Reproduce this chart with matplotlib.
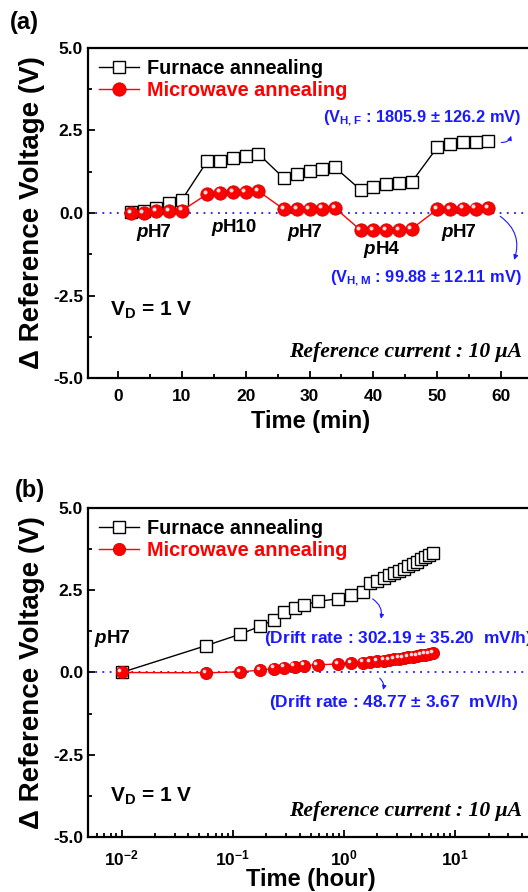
import matplotlib
matplotlib.use("Agg")
import matplotlib.pyplot as plt
from matplotlib.transforms import ScaledTranslation

plt.rcParams["font.family"] = ["Liberation Sans", "DejaVu Sans"]
plt.rcParams["font.weight"] = "bold"
plt.rcParams["axes.labelweight"] = "bold"
plt.rcParams["axes.unicode_minus"] = False
plt.rcParams["mathtext.fontset"] = "custom"
plt.rcParams["mathtext.rm"] = "Liberation Sans:bold"
plt.rcParams["mathtext.bf"] = "Liberation Sans:bold"
plt.rcParams["mathtext.default"] = "bf"

# (a) pH sequence 7 -> 10 -> 7 -> 4 -> 7, one point every 2 min
time_a = [2, 4, 6, 8, 10, 14, 16, 18, 20, 22, 26, 28, 30, 32, 34,
          38, 40, 42, 44, 46, 50, 52, 54, 56, 58]
furnace_a = [0.02, 0.07, 0.15, 0.29, 0.40, 1.58, 1.58, 1.68, 1.72, 1.79,
             1.05, 1.19, 1.28, 1.32, 1.38, 0.70, 0.79, 0.89, 0.92, 0.94,
             1.99, 2.09, 2.15, 2.15, 2.19]
microwave_a = [0.00, 0.00, 0.05, 0.05, 0.07, 0.58, 0.62, 0.64, 0.64, 0.66,
               0.11, 0.11, 0.11, 0.13, 0.15, -0.52, -0.51, -0.51, -0.51, -0.48,
               0.11, 0.11, 0.13, 0.13, 0.15]
ph_labels_a = [(4.7, -0.6, "7"), (16.4, -0.45, "10"), (28.3, -0.6, "7"),
               (40.3, -1.1, "4"), (52.5, -0.6, "7")]

# (b) drift at pH7 (hours)
time_b = [0.01, 0.058, 0.116, 0.177, 0.237, 0.29, 0.36, 0.44, 0.58, 0.88,
          1.16, 1.48, 1.73, 2.0, 2.3, 2.55, 2.83, 3.14, 3.44, 3.76,
          4.15, 4.52, 4.91, 5.34, 5.8, 6.3]
furnace_b = [0.00, 0.82, 1.16, 1.41, 1.61, 1.83, 1.97, 2.06, 2.16, 2.24,
             2.36, 2.44, 2.71, 2.79, 2.87, 2.95, 3.02, 3.09, 3.16, 3.23,
             3.30, 3.37, 3.44, 3.51, 3.58, 3.64]
microwave_b = [0.00, -0.01, 0.02, 0.07, 0.12, 0.15, 0.18, 0.21, 0.23, 0.26,
               0.29, 0.30, 0.32, 0.34, 0.36, 0.38, 0.40, 0.42, 0.44, 0.46,
               0.48, 0.50, 0.52, 0.54, 0.56, 0.58]

BLUE = "#1a1aff"
RED = "#ff0000"

fig = plt.figure(figsize=(5.28, 8.92), dpi=100)
ax_a = fig.add_axes([0.1667, 0.5762, 0.8428, 0.37])
ax_b = fig.add_axes([0.1667, 0.0617, 0.8428, 0.3688])


def draw_series(ax, t, fur, mic, sq, ci):
    ax.axhline(0, color=BLUE, ls=(0, (1, 3)), lw=1.3, zorder=1)
    ax.plot(t, fur, color="black", lw=1.0, marker="s", ms=sq, mfc="white",
            mec="black", mew=1.0, label="Furnace annealing", zorder=3)
    ax.plot(t, mic, color=RED, lw=1.0, marker="o", ms=ci, mfc=RED,
            mec="#d00000", mew=0.6, label="Microwave annealing", zorder=4)
    shift = ax.transData + ScaledTranslation(-1.6 / 72, 1.6 / 72, fig.dpi_scale_trans)
    ax.plot(t, mic, ls="none", marker="o", ms=ci * 0.3, mfc="#ffe0e0",
            mec="none", transform=shift, zorder=5)


def style_axes(ax):
    ax.set_ylim(-5, 5)
    ax.set_yticks([-5, -2.5, 0, 2.5, 5])
    ax.set_yticklabels(["-5.0", "-2.5", "0.0", "2.5", "5.0"])
    ax.set_yticks([-3.75, -1.25, 1.25, 3.75], minor=True)
    ax.tick_params(which="both", direction="in", labelsize=12.5, width=1.3)
    ax.tick_params(which="major", length=5)
    ax.tick_params(which="minor", length=3)
    ax.tick_params(axis="x", pad=8)
    for s in ax.spines.values():
        s.set_linewidth(1.6)
    ax.set_ylabel("\u0394 Reference Voltage (V)", fontsize=20, labelpad=6)
    ax.legend(loc="upper left", frameon=False, fontsize=14.3,
              handlelength=2.0, handletextpad=0.4, labelspacing=0.15,
              borderaxespad=0.15, labelcolor="linecolor")


def ph_label(ax, x, y, num):
    ax.text(x, y, "p", style="italic", fontsize=13.5, ha="right", va="center")
    ax.text(x, y, "H" + num, fontsize=13.5, ha="left", va="center")


def ref_current(ax):
    ax.text(0.975, 0.08, "Reference current : 10 \u03bcA", transform=ax.transAxes,
            family="Liberation Serif", style="italic", weight="bold",
            fontsize=15.6, ha="right", va="center")


# ---- (a)
draw_series(ax_a, time_a, furnace_a, microwave_a, 8.4, 9.6)
style_axes(ax_a)
ax_a.set_xlim(-4.7, 65)
ax_a.set_xticks(range(0, 61, 10))
ax_a.set_xticks(range(5, 66, 10), minor=True)
ax_a.set_xlabel("Time (min)", fontsize=17, labelpad=4)
for x, y, n in ph_labels_a:
    ph_label(ax_a, x, y, n)
ax_a.text(63.2, 2.88, r"(V$_{\mathregular{H,F}}$ : 1805.9 $\pm$ 126.2 mV)", color=BLUE,
          fontsize=11.8, ha="right", va="center")
ax_a.text(63.2, -1.97, r"(V$_{\mathregular{H,M}}$ : 99.88 $\pm$ 12.11 mV)", color=BLUE,
          fontsize=11.8, ha="right", va="center")
ax_a.annotate("", xy=(61.7, 2.42), xytext=(59.6, 2.15),
              arrowprops=dict(arrowstyle="-|>", color=BLUE, lw=0.8,
                              mutation_scale=6, connectionstyle="arc3,rad=0.5"))
ax_a.annotate("", xy=(61.9, -1.5), xytext=(59.5, -0.05),
              arrowprops=dict(arrowstyle="-|>", color=BLUE, lw=0.8,
                              mutation_scale=7, connectionstyle="arc3,rad=-0.4"))
ax_a.text(0.05, 0.206, r"V$_{\mathregular{D}}$ = 1 V", transform=ax_a.transAxes,
          fontsize=15, ha="left", va="center")
ref_current(ax_a)
fig.text(0.019, 0.975, "(a)", fontsize=17, ha="left", va="center")

# ---- (b)
draw_series(ax_b, time_b, furnace_b, microwave_b, 8.0, 8.8)
style_axes(ax_b)
ax_b.set_xscale("log")
ax_b.set_xlim(0.005, 50)
ax_b.set_xlabel("Time (hour)", fontsize=17, labelpad=0)
ph_label(ax_b, 0.0073, 1.03, "7")
ax_b.text(0.19, 1.03, r"(Drift rate : 302.19 $\pm$ 35.20  mV/h)", color=BLUE,
          fontsize=12.5, ha="left", va="center")
ax_b.text(0.212, -0.92, r"(Drift rate : 48.77 $\pm$ 3.67  mV/h)", color=BLUE,
          fontsize=12.5, ha="left", va="center")
ax_b.annotate("", xy=(2.12, 1.55), xytext=(1.72, 2.28),
              arrowprops=dict(arrowstyle="-|>", color=BLUE, lw=0.8,
                              mutation_scale=6, connectionstyle="arc3,rad=-0.4"))
ax_b.annotate("", xy=(2.21, -0.61), xytext=(2.0, -0.12),
              arrowprops=dict(arrowstyle="-|>", color=BLUE, lw=0.8,
                              mutation_scale=6, connectionstyle="arc3,rad=-0.4"))
ax_b.text(0.05, 0.123, r"V$_{\mathregular{D}}$ = 1 V", transform=ax_b.transAxes,
          fontsize=15, ha="left", va="center")
ref_current(ax_b)
fig.text(0.028, 0.45, "(b)", fontsize=17, ha="left", va="center")

fig.savefig("out.png", dpi=100)
